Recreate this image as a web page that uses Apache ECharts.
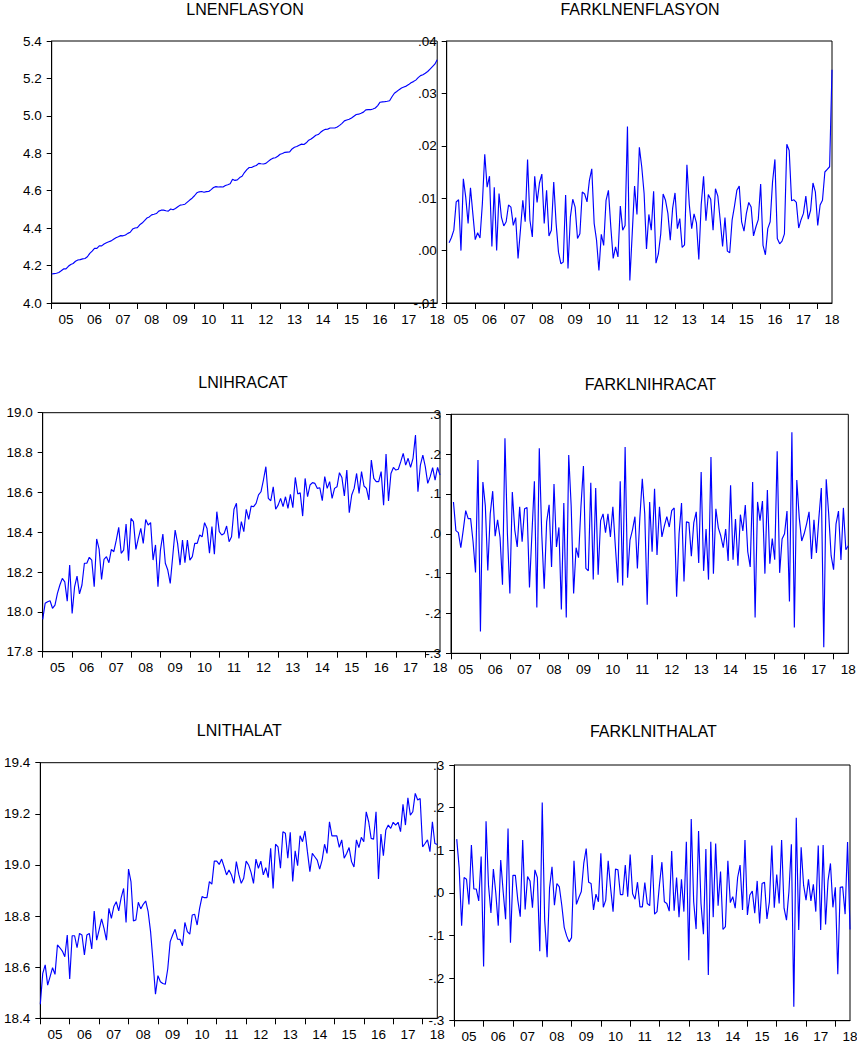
<!DOCTYPE html>
<html>
<head>
<meta charset="utf-8">
<script src="https://cdn.jsdelivr.net/npm/echarts@6/dist/echarts.min.js"></script>
<style>
html,body{margin:0;padding:0;background:#ffffff;}
#chart{width:857px;height:1048px;}
</style>
</head>
<body>
<div id="chart"></div>
<script>
// ---------------- DATA ----------------
const yearLabels = ["05","06","07","08","09","10","11","12","13","14","15","16","17","18"];
const startYear = 2005;
const nObs = 163; // 2005M01 .. 2018M07
const months = [];
for (let k = 0; k < nObs; k++) {
  months.push((startYear + Math.floor(k / 12)) + "M" + String(k % 12 + 1).padStart(2, "0"));
}

const lnenflasyon = [
4.155,4.157,4.159,4.163,4.172,4.182,4.182,4.196,4.206,4.211,
4.223,4.230,4.232,4.236,4.238,4.247,4.265,4.277,4.292,4.292,
4.305,4.305,4.315,4.322,4.327,4.332,4.341,4.349,4.354,4.360,
4.359,4.363,4.372,4.378,4.395,4.401,4.403,4.418,4.427,4.440,
4.454,4.460,4.471,4.474,4.478,4.491,4.496,4.496,4.493,4.491,
4.502,4.498,4.505,4.514,4.523,4.525,4.528,4.539,4.550,4.560,
4.573,4.589,4.594,4.596,4.592,4.595,4.596,4.606,4.617,4.622,
4.620,4.621,4.620,4.628,4.632,4.637,4.661,4.655,4.658,4.670,
4.677,4.697,4.713,4.724,4.724,4.731,4.735,4.746,4.744,4.743,
4.746,4.757,4.767,4.774,4.776,4.784,4.795,4.799,4.805,4.806,
4.807,4.823,4.832,4.836,4.843,4.849,4.847,4.856,4.870,4.876,
4.886,4.896,4.900,4.912,4.922,4.928,4.929,4.935,4.935,4.935,
4.940,4.949,4.960,4.973,4.978,4.982,4.989,4.998,5.007,5.009,
5.014,5.020,5.032,5.033,5.033,5.037,5.042,5.055,5.073,5.075,
5.076,5.078,5.081,5.102,5.121,5.130,5.140,5.149,5.154,5.159,
5.167,5.177,5.183,5.191,5.204,5.215,5.220,5.228,5.237,5.250,
5.263,5.276,5.300
];

const farklnenflasyon = [null,
0.0015,0.0025,0.0039,0.0093,0.0097,0.0,0.0137,0.0102,0.0052,0.012,
0.007,0.0021,0.0034,0.0024,0.009,0.0184,0.0121,0.0142,0.0008,0.0121,
0.0,0.0109,0.0064,0.0047,0.0055,0.0087,0.0083,0.0048,0.0063,-0.0015,
0.0039,0.0096,0.0055,0.0174,0.0058,0.0026,0.0142,0.0092,0.0129,0.0146,
0.0052,0.0115,0.0028,0.0039,0.0131,0.0052,-0.0003,-0.0025,-0.0022,0.0106,
-0.0034,0.0064,0.0098,0.0083,0.0023,0.0032,0.0112,0.0108,0.0093,0.0134,
0.0156,0.0052,0.002,-0.0038,0.0031,0.001,0.0096,0.0115,0.0045,-0.0015,
0.0007,-0.0012,0.0085,0.0039,0.0048,0.0237,-0.0057,0.0032,0.0123,0.0069,
0.0197,0.016,0.0109,0.0003,0.0069,0.0039,0.0113,-0.0024,-0.0006,0.0032,
0.0108,0.0096,0.0071,0.002,0.0081,0.011,0.0042,0.0061,0.0006,0.0011,
0.0164,0.0088,0.0042,0.007,0.0053,-0.0017,0.0087,0.0142,0.0057,0.0107,
0.0098,0.0039,0.0118,0.0104,0.0058,0.0008,0.0063,-0.0001,-0.0004,0.0058,
0.0085,0.0115,0.0123,0.0055,0.0037,0.0071,0.0092,0.0083,0.0028,0.0045,
0.0059,0.0127,0.001,-0.0008,0.0042,0.0055,0.0131,0.0174,0.0023,0.0013,
0.0018,0.0032,0.0203,0.0191,0.0095,0.0097,0.0092,0.0043,0.0059,0.0071,
0.0104,0.006,0.0077,0.0129,0.0112,0.0048,0.0087,0.0096,0.015,0.0155,
0.016,0.0345
];

const lnihracat = [
17.962,18.043,18.051,18.056,18.018,18.034,18.093,18.135,18.168,18.151,
18.054,18.235,17.992,18.126,18.180,18.090,18.135,18.244,18.244,18.274,
18.260,18.126,18.366,18.315,18.163,18.264,18.277,18.247,18.314,18.302,
18.360,18.424,18.294,18.310,18.441,18.257,18.469,18.453,18.314,18.369,
18.419,18.344,18.464,18.436,18.448,18.260,18.336,18.126,18.310,18.391,
18.244,18.210,18.143,18.277,18.411,18.344,18.235,18.360,18.247,18.360,
18.260,18.277,18.344,18.344,18.386,18.377,18.448,18.419,18.294,18.428,
18.290,18.503,18.403,18.386,18.394,18.431,18.352,18.377,18.515,18.545,
18.369,18.453,18.403,18.515,18.464,18.531,18.528,18.545,18.587,18.603,
18.662,18.729,18.570,18.558,18.628,18.515,18.536,18.570,18.528,18.578,
18.520,18.590,18.523,18.675,18.592,18.598,18.481,18.670,18.578,18.637,
18.649,18.645,18.620,18.623,18.558,18.679,18.620,18.654,18.570,18.620,
18.628,18.699,18.675,18.582,18.712,18.498,18.587,18.620,18.695,18.595,
18.704,18.632,18.620,18.562,18.762,18.670,18.654,18.654,18.704,18.536,
18.792,18.557,18.695,18.725,18.712,18.716,18.754,18.796,18.737,18.771,
18.725,18.771,18.888,18.603,18.737,18.787,18.729,18.645,18.679,18.724,
18.662,18.725,18.687
];

const farklnihracat = [null,
0.08,0.008,0.003,-0.035,0.01,0.058,0.038,0.038,-0.02,-0.097,
0.185,-0.245,0.13,0.07,-0.092,0.05,0.107,-0.006,0.035,-0.01,
-0.128,0.24,0.0,-0.15,0.105,0.01,-0.033,0.068,-0.02,0.063,
0.066,-0.135,0.0,0.132,-0.185,0.215,0.0,-0.138,0.03,0.073,
-0.083,0.125,-0.033,0.016,-0.19,0.077,-0.21,0.198,0.07,-0.15,
-0.035,-0.06,0.07,0.17,-0.087,-0.093,0.128,-0.115,0.115,-0.103,
0.033,0.05,0.003,0.05,-0.008,0.068,-0.03,-0.123,0.132,-0.13,
0.218,-0.11,-0.015,0.01,0.043,-0.087,0.04,0.138,0.05,-0.178,
0.08,-0.045,0.113,-0.053,0.068,-0.008,0.02,0.043,0.017,0.058,
0.065,-0.158,0.0,0.077,-0.12,0.03,0.028,-0.056,0.028,0.055,
-0.073,0.155,-0.093,0.012,-0.115,0.193,-0.1,0.063,0.015,-0.005,
-0.035,0.012,-0.068,0.122,-0.065,0.037,-0.08,0.048,0.007,0.072,
-0.045,-0.083,0.13,-0.21,0.08,0.033,0.082,-0.1,0.11,-0.075,
-0.012,-0.065,0.207,-0.098,-0.013,0.0,0.057,-0.17,0.255,-0.235,
0.135,0.04,-0.018,0.0,0.025,0.055,-0.063,0.035,-0.048,0.04,
0.115,-0.285,0.137,0.05,-0.055,-0.09,0.025,0.057,-0.066,0.065,
-0.04,-0.03
];

const lnithalat = [
18.455,18.576,18.609,18.530,18.563,18.598,18.572,18.687,18.676,18.663,
18.641,18.726,18.554,18.723,18.723,18.676,18.732,18.726,18.648,18.726,
18.732,18.671,18.820,18.706,18.746,18.789,18.752,18.706,18.830,18.791,
18.837,18.856,18.820,18.872,18.908,18.775,18.984,18.935,18.781,18.785,
18.854,18.828,18.846,18.859,18.817,18.739,18.622,18.494,18.567,18.543,
18.536,18.533,18.593,18.700,18.726,18.748,18.710,18.709,18.684,18.775,
18.739,18.729,18.804,18.807,18.765,18.830,18.876,18.872,18.872,18.935,
18.925,19.015,19.015,19.002,19.023,18.993,18.961,18.980,18.961,18.928,
19.013,18.963,18.928,18.948,19.015,19.000,18.971,18.928,19.023,18.987,
19.015,18.961,18.989,18.950,19.065,18.908,19.081,19.071,18.987,19.130,
19.124,19.026,19.128,18.935,19.055,18.997,19.114,19.091,19.133,19.052,
18.974,19.045,19.032,19.019,18.984,19.019,19.081,19.045,19.169,19.114,
19.114,19.114,19.069,19.098,19.026,19.045,19.068,19.013,18.992,19.098,
19.068,19.108,19.091,19.208,19.169,19.104,19.101,19.208,18.945,19.121,
19.036,19.137,19.156,19.143,19.167,19.156,19.167,19.130,19.237,19.156,
19.263,19.195,19.208,19.280,19.254,19.260,19.071,19.084,19.098,19.052,
19.169,19.084,19.080
];

const farklnithalat = [null,
0.126,0.058,-0.077,0.036,0.032,-0.027,0.112,0.009,0.009,-0.019,
0.085,-0.173,0.168,0.018,-0.047,0.056,-0.001,-0.077,0.077,0.003,
-0.062,0.151,-0.117,0.041,0.041,-0.017,-0.056,0.124,-0.039,0.038,
0.028,-0.035,0.054,0.036,-0.137,0.212,-0.064,-0.151,0.012,0.061,
-0.029,0.022,0.014,-0.029,-0.081,-0.101,-0.115,-0.105,0.075,-0.027,
-0.011,0.003,0.069,0.104,0.025,0.022,-0.04,-0.003,-0.021,0.093,
-0.034,-0.017,0.075,0.011,-0.044,0.056,0.054,-0.004,-0.004,0.065,
-0.009,0.09,-0.002,-0.015,0.025,-0.033,-0.033,0.024,-0.025,-0.03,
0.089,-0.05,-0.044,0.02,0.072,-0.021,-0.025,-0.043,0.098,-0.042,
0.036,-0.057,0.032,-0.044,0.12,-0.158,0.173,-0.021,-0.085,0.145,
-0.025,-0.097,0.103,-0.193,0.12,-0.057,0.116,-0.03,0.05,-0.086,
-0.079,0.075,-0.023,-0.009,-0.036,0.036,0.065,-0.04,0.124,-0.052,
-0.005,0.004,-0.048,0.028,-0.072,0.022,0.025,-0.061,-0.021,0.111,
-0.035,0.043,-0.025,0.124,-0.036,-0.064,0.003,0.114,-0.267,0.176,
-0.087,0.107,0.018,-0.017,0.032,-0.019,0.02,-0.044,0.111,-0.087,
0.112,-0.074,0.028,0.069,-0.034,0.013,-0.191,0.013,0.014,-0.05,
0.119,-0.086
];

// ---------------- LAYOUT ----------------
const FONT = '"Liberation Sans", Arial, Helvetica, sans-serif';
const panels = [
  {title:"LNENFLASYON",     tx:245,   ty:9,     grid:{left:51.7, top:41,    width:385.5, height:262},   min:4.0,  max:5.4,  step:0.2,  dec:1, lead:true,  data:lnenflasyon},
  {title:"FARKLNENFLASYON", tx:640,   ty:9,     grid:{left:446.7,top:41,    width:385.3, height:262},   min:-0.01,max:0.04, step:0.01, dec:2, lead:false, data:farklnenflasyon},
  {title:"LNIHRACAT",       tx:243,   ty:382,   grid:{left:42.7, top:412.7, width:397.3, height:239},   min:17.8, max:19.0, step:0.2,  dec:1, lead:true,  data:lnihracat},
  {title:"FARKLNIHRACAT",   tx:650.5, ty:384,   grid:{left:451,  top:414.3, width:397.3, height:239},   min:-0.3, max:0.3,  step:0.1,  dec:1, lead:false, data:farklnihracat},
  {title:"LNITHALAT",       tx:239.3, ty:730,   grid:{left:40.3, top:762.7, width:397,   height:255.6}, min:18.4, max:19.4, step:0.2,  dec:1, lead:true,  data:lnithalat},
  {title:"FARKLNITHALAT",   tx:653.3, ty:731.7, grid:{left:454.3,top:765,   width:395.7, height:255.7}, min:-0.3, max:0.3,  step:0.1,  dec:1, lead:false, data:farklnithalat}
];

function fmt(v, dec, lead) {
  let s = (Math.abs(v) < 1e-9 ? 0 : v).toFixed(dec);
  if (!lead) s = s.replace(/^(-?)0\./, "$1.");
  return s;
}

const grids = [], xAxes = [], yAxes = [], series = [], graphics = [];
panels.forEach((p, i) => {
  grids.push(Object.assign({show:true, borderColor:"#000", borderWidth:1, backgroundColor:"transparent", outerBoundsMode:"none", containLabel:false}, p.grid));
  xAxes.push({
    type:"category", gridIndex:i, data:months, boundaryGap:false, position:"bottom",
    axisLine:{show:true, onZero:false, lineStyle:{color:"#000", width:1}},
    axisTick:{show:true, length:6, lineStyle:{color:"#000"}, interval:(idx) => idx % 12 === 0},
    axisLabel:{show:true, color:"#000", fontFamily:FONT, fontSize:13.5, margin:9,
      interval:(idx) => idx % 12 === 6,
      formatter:(val, idx) => yearLabels[Math.floor(idx / 12)]},
    splitLine:{show:false}
  });
  yAxes.push({
    type:"value", gridIndex:i, min:p.min, max:p.max, interval:p.step, position:"left",
    axisLine:{show:true, onZero:false, lineStyle:{color:"#000", width:1}},
    axisTick:{show:true, length:5, lineStyle:{color:"#000"}},
    axisLabel:{show:true, color:"#000", fontFamily:FONT, fontSize:13.5, margin:10,
      formatter:(v) => fmt(v, p.dec, p.lead)},
    splitLine:{show:false}
  });
  series.push({
    type:"line", xAxisIndex:i, yAxisIndex:i, data:p.data,
    showSymbol:false, symbol:"none", connectNulls:false, clip:true,
    lineStyle:{color:"#0000ff", width:1.15}, silent:true
  });
  graphics.push({
    type:"text", x:p.tx, y:p.ty,
    style:{text:p.title, font:"16px " + FONT, fill:"#000",
      textAlign:"center", textVerticalAlign:"middle", align:"center", verticalAlign:"middle"}
  });
});

const chart = echarts.init(document.getElementById("chart"), null, {renderer:"svg", width:857, height:1048});
chart.setOption({
  animation:false,
  backgroundColor:"#ffffff",
  grid:grids, xAxis:xAxes, yAxis:yAxes, series:series, graphic:graphics
});
</script>
</body>
</html>
